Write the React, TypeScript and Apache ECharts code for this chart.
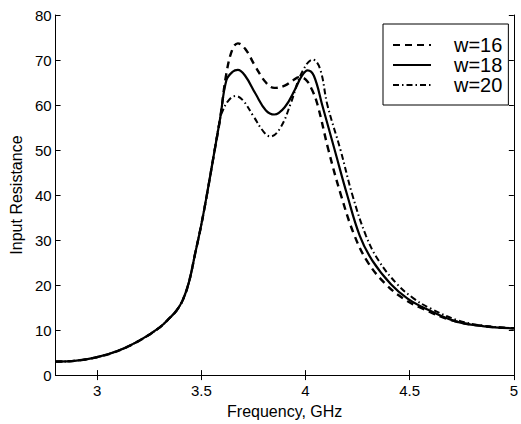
import React, { useEffect, useRef } from "react";
import * as echarts from "echarts";

// Shared low-frequency part (all three curves coincide)
const commonFreq = [2.8, 2.9, 3.0, 3.1, 3.2, 3.3, 3.35, 3.38, 3.41, 3.44, 3.47, 3.5, 3.53, 3.56, 3.59];
const commonR = [3.0, 3.2, 4.0, 5.4, 7.6, 10.6, 12.8, 14.3, 16.6, 20.6, 27, 33.5, 41, 49, 57];

// w=16 (dashed)
const freq16 = [3.62, 3.65, 3.675, 3.71, 3.76, 3.81, 3.85, 3.9, 3.94, 3.97, 4.0, 4.03, 4.058, 4.11, 4.17, 4.235, 4.3, 4.385, 4.47, 4.56, 4.7, 4.85, 5.0];
const r16 = [67, 72.5, 73.7, 72.5, 68.5, 65.0, 63.8, 64.3, 65.5, 66.2, 65.7, 63.5, 60, 50, 40, 31, 25, 20.2, 17, 14.8, 12.2, 10.9, 10.4];

// w=18 (solid)
const freq18 = [3.62, 3.65, 3.675, 3.71, 3.76, 3.81, 3.85, 3.9, 3.95, 3.98, 4.01, 4.04, 4.08, 4.14, 4.2, 4.26, 4.32, 4.41, 4.49, 4.575, 4.716, 4.85, 5.0];
const r18 = [65.5, 67.4, 67.8, 66.5, 62.5, 58.8, 57.9, 59.5, 63.5, 66.3, 67.7, 66.5, 60, 50, 40, 31, 25.5, 20.2, 17, 14.8, 12.0, 10.9, 10.4];

// w=20 (dash-dot)
const freq20 = [3.6, 3.63, 3.664, 3.7, 3.75, 3.8, 3.831, 3.88, 3.93, 3.98, 4.035, 4.07, 4.105, 4.168, 4.225, 4.29, 4.35, 4.44, 4.52, 4.6, 4.73, 4.85, 5.0];
const r20 = [58.5, 61, 62, 61, 57.5, 54, 53, 55, 60.5, 67, 70.1, 68, 60, 50, 40, 31, 25.5, 20.2, 17, 14.8, 12.2, 11, 10.4];

const seriesNames = ["w=16", "w=18", "w=20"];
const xTicks = [3, 3.5, 4, 4.5, 5];

const FONT = "Liberation Sans, Arial, Helvetica, sans-serif";

function build(f: number[], r: number[]) {
  const pts: number[][] = [];
  const cutoff = f[0];
  commonFreq.forEach((x, i) => {
    if (x < cutoff) pts.push([x, commonR[i]]);
  });
  f.forEach((x, i) => pts.push([x, r[i]]));
  return pts;
}

export default function App() {
  const ref = useRef<HTMLDivElement>(null);
  useEffect(() => {
    if (!ref.current) return;
    const chart = echarts.init(ref.current, undefined, { renderer: "svg" });
    const axisLine = { show: true, lineStyle: { color: "#000", width: 1 } };
    const xTick = { show: true, inside: true, length: 5, customValues: xTicks, lineStyle: { color: "#000" } };
    const yTick = { show: true, inside: true, length: 5, lineStyle: { color: "#000" } };
    const lineBase = { type: "line", showSymbol: false, symbol: "none", smooth: 0.4, z: 3 };
    chart.setOption({
      animation: false,
      backgroundColor: "#fff",
      grid: { left: 52, right: 2, top: 15, bottom: 41, containLabel: false },
      legend: {
        orient: "vertical",
        left: 383,
        top: 24,
        padding: [11, 6, 10, 9],
        itemWidth: 38,
        itemHeight: 14,
        itemGap: 0,
        backgroundColor: "#fff",
        borderColor: "#000",
        borderWidth: 1,
        borderRadius: 0,
        data: seriesNames,
        itemStyle: { color: "rgba(0,0,0,0)", borderWidth: 0, opacity: 0 },
        textStyle: { fontFamily: FONT, fontSize: 20, color: "#000", lineHeight: 19, padding: [0, 0, 0, 18] },
      },
      xAxis: [
        {
          type: "value",
          position: "bottom",
          min: 2.8,
          max: 5,
          name: "Frequency, GHz",
          nameLocation: "middle",
          nameGap: 22,
          nameTextStyle: { fontFamily: FONT, fontSize: 16, color: "#000" },
          axisLine,
          axisTick: xTick,
          axisLabel: { customValues: xTicks, fontFamily: FONT, fontSize: 15, color: "#000", margin: 8 },
          splitLine: { show: false },
        },
        {
          type: "value",
          position: "top",
          min: 2.8,
          max: 5,
          axisLine,
          axisTick: xTick,
          axisLabel: { show: false },
          splitLine: { show: false },
        },
      ],
      yAxis: [
        {
          type: "value",
          position: "left",
          min: 0,
          max: 80,
          interval: 10,
          name: "Input Resistance",
          nameLocation: "middle",
          nameGap: 24,
          nameTextStyle: { fontFamily: FONT, fontSize: 16, color: "#000" },
          axisLine,
          axisTick: yTick,
          axisLabel: { fontFamily: FONT, fontSize: 15, color: "#000", margin: 4 },
          splitLine: { show: false },
        },
        {
          type: "value",
          position: "right",
          min: 0,
          max: 80,
          interval: 10,
          axisLine,
          axisTick: yTick,
          axisLabel: { show: false },
          splitLine: { show: false },
        },
      ],
      series: [
        {
          ...lineBase,
          name: seriesNames[0],
          data: build(freq16, r16),
          lineStyle: { color: "#000", width: 2.4, type: [7, 5] },
          itemStyle: { color: "#000" },
        },
        {
          ...lineBase,
          name: seriesNames[1],
          data: build(freq18, r18),
          lineStyle: { color: "#000", width: 2.2, type: "solid" },
          itemStyle: { color: "#000" },
        },
        {
          ...lineBase,
          name: seriesNames[2],
          data: build(freq20, r20),
          lineStyle: { color: "#000", width: 2, type: [6, 3, 1.5, 3] },
          itemStyle: { color: "#000" },
        },
      ],
    });
    return () => chart.dispose();
  }, []);
  return <div ref={ref} style={{ width: 521, height: 424, position: "absolute", left: 0, top: 0 }} />;
}
